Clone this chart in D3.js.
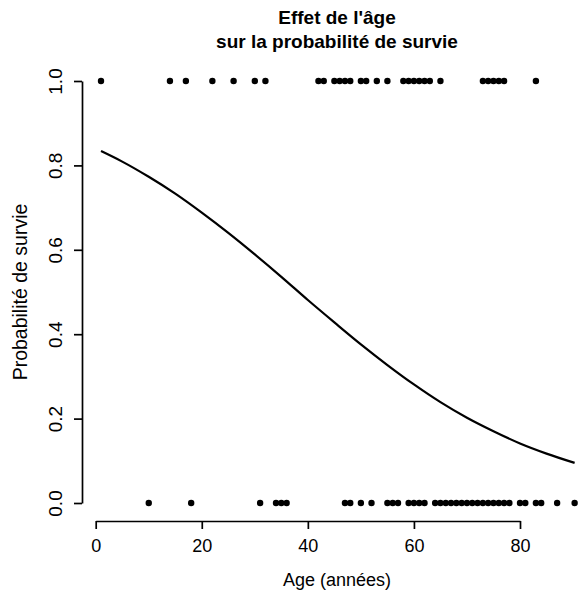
<!DOCTYPE html>
<html>
<head>
<meta charset="utf-8">
<script src="https://cdn.jsdelivr.net/npm/d3@7"></script>
<style>
  html, body { margin: 0; padding: 0; background: #fff; }
  svg text { font-family: "Liberation Sans", Arial, sans-serif; fill: #000; }
</style>
</head>
<body>
<svg id="chart" width="578" height="596"></svg>
<script>
// ---- data ----
const titleLines = ["Effet de l'âge", "sur la probabilité de survie"];
const xLabel = "Age (années)";
const yLabel = "Probabilité de survie";

// ages of survivors (y = 1)
const agesSurvived = [1, 14, 17, 22, 26, 30, 32, 42, 43, 45, 46, 47, 48, 50, 51, 53, 55,
  58, 59, 60, 61, 62, 63, 65, 73, 74, 75, 76, 77, 83];
// ages of deaths (y = 0)
const agesDied = [10, 18, 31, 34, 35, 36, 47, 48, 50, 52, 55, 56, 57, 59, 60, 61, 62,
  64, 65, 66, 67, 68, 69, 70, 71, 72, 73, 74, 75, 76, 77, 78, 80, 81, 83, 84, 87, 90.3];

// fitted survival curve, read at these ages
const curveAges = [1, 5, 10, 15, 20, 25, 30, 35, 40, 45, 50, 55, 60, 65, 70, 75, 80, 85, 90.3];
const curveProb = [0.834, 0.809, 0.773, 0.733, 0.688, 0.640, 0.589, 0.536, 0.481, 0.428,
  0.376, 0.327, 0.281, 0.239, 0.202, 0.170, 0.141, 0.117, 0.095];

const xTicks = [0, 20, 40, 60, 80];
const yTicks = [0, 0.2, 0.4, 0.6, 0.8, 1.0];

// ---- layout ----
const svg = d3.select("#chart");
const x = d3.scaleLinear().domain([0, 80]).range([95.7, 520]);
const y = d3.scaleLinear().domain([0, 1]).range([503, 81]);
const plotLeft = 82, plotBottom = 521;
const plotCenterX = (x(-2.56) + x(93.56)) / 2;
const plotCenterY = (y(-0.04) + y(1.04)) / 2;

// title
svg.append("text")
  .attr("x", plotCenterX).attr("y", 24)
  .attr("text-anchor", "middle")
  .style("font-size", "19px").style("font-weight", "bold")
  .text(titleLines[0]);
svg.append("text")
  .attr("x", plotCenterX).attr("y", 48)
  .attr("text-anchor", "middle")
  .style("font-size", "19px").style("font-weight", "bold")
  .text(titleLines[1]);

// x axis
const gx = svg.append("g")
  .attr("transform", `translate(0,${plotBottom})`)
  .call(d3.axisBottom(x).tickValues(xTicks).tickFormat(d3.format("d"))
    .tickSizeOuter(0).tickSizeInner(8).tickPadding(10));
gx.selectAll("text").style("font-size", "18px").attr("font-family", null);
gx.selectAll("path, line").attr("stroke", "#000").attr("stroke-width", 1.7);

// y axis
const gy = svg.append("g")
  .attr("transform", `translate(${plotLeft},0)`)
  .call(d3.axisLeft(y).tickValues(yTicks).tickFormat(d3.format(".1f"))
    .tickSizeOuter(0).tickSizeInner(8));
gy.selectAll("path, line").attr("stroke", "#000").attr("stroke-width", 1.7);
gy.selectAll("text")
  .attr("x", null).attr("dy", null)
  .attr("text-anchor", "middle")
  .attr("transform", "translate(-20,0) rotate(-90)")
  .style("font-size", "19px").attr("font-family", null);

// axis titles
svg.append("text")
  .attr("x", plotCenterX).attr("y", 586)
  .attr("text-anchor", "middle")
  .style("font-size", "18px")
  .text(xLabel);
svg.append("text")
  .attr("transform", `translate(27,${plotCenterY}) rotate(-90)`)
  .attr("text-anchor", "middle")
  .style("font-size", "19.5px")
  .text(yLabel);

// points
svg.append("g").selectAll("circle.s")
  .data(agesSurvived).join("circle")
  .attr("cx", d => x(d)).attr("cy", y(1)).attr("r", 3.2).attr("fill", "#000");
svg.append("g").selectAll("circle.d")
  .data(agesDied).join("circle")
  .attr("cx", d => x(d)).attr("cy", y(0)).attr("r", 3.2).attr("fill", "#000");

// curve
const pts = curveAges.map((a, i) => [a, curveProb[i]]);
svg.append("path")
  .datum(pts)
  .attr("fill", "none").attr("stroke", "#000").attr("stroke-width", 2.2)
  .attr("d", d3.line().x(d => x(d[0])).y(d => y(d[1])).curve(d3.curveMonotoneX));
</script>
</body>
</html>
